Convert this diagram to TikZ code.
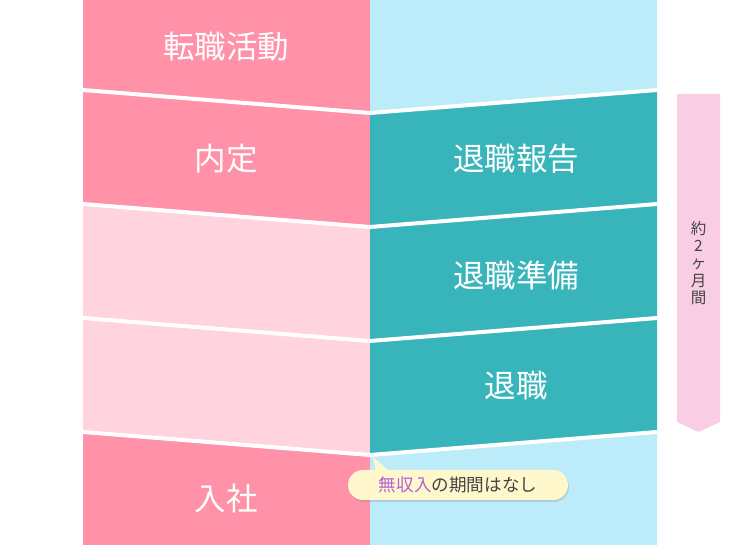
\documentclass[tikz,border=0pt]{standalone}
\usepackage{fontspec}
\usepackage{xcolor}
\usepackage{tikz}
\usetikzlibrary{shadows}
\newfontfamily\jpfont{Noto Sans CJK JP}
\definecolor{pinkdeep}{HTML}{FF91A8}
\definecolor{pinklight}{HTML}{FFD4DE}
\definecolor{bluelight}{HTML}{BCECF9}
\definecolor{tealdeep}{HTML}{37B5BA}
\definecolor{arrowpink}{HTML}{F9CEE4}
\definecolor{bubbleyellow}{HTML}{FFF8CC}
\definecolor{purptxt}{HTML}{B462D2}
\definecolor{graytxt}{HTML}{444444}
\def\colL{83}
\def\colM{370}
\def\colR{657}
\def\dip{23}

\tikzset{
  steptext/.style={font=\jpfont\fontsize{31.5}{31.5}\selectfont, text=white, inner sep=0pt},
  sepline/.style={line width=4pt, white},
  bubble/.style={fill=bubbleyellow, rounded corners=15pt, minimum width=220pt, minimum height=30pt,
    inner sep=0pt, font=\jpfont\fontsize{17.6}{17.6}\selectfont, text=graytxt,
    drop shadow={opacity=0.25, shadow xshift=1pt, shadow yshift=-2pt}},
  periodtext/.style={font=\jpfont\fontsize{15.5}{17.4}\selectfont, text=graytxt, align=center, inner sep=0pt}
}

\begin{document}
\begin{tikzpicture}[x=1pt, y=-1pt]
  \useasboundingbox (0,0) rectangle (740,545);

  % Bands: top-left y, bottom-left y, left colour, right colour
  \foreach \ytop/\ybot/\cl/\cr in {-30/90/pinkdeep/bluelight, 90/204/pinkdeep/tealdeep,
      204/318/pinklight/tealdeep, 318/432/pinklight/tealdeep, 432/580/pinkdeep/bluelight}{
    \fill[\cl] (\colL, \ytop) -- (\colM, \ytop + \dip) -- (\colM, \ybot + \dip) -- (\colL, \ybot) -- cycle;
    \fill[\cr] (\colM, \ytop + \dip) -- (\colR, \ytop) -- (\colR, \ybot) -- (\colM, \ybot + \dip) -- cycle;
  }
  \fill[white] (\colL, 545) rectangle (\colR, 560);

  % Separators
  \foreach \y in {90, 204, 318, 432}{
    \draw[sepline] (\colL, \y) -- (\colM, \y + \dip) -- (\colR, \y);
  }

  % Step labels
  \node[steptext] (hunt) at (226, 47) {転職活動};
  \node[steptext] (offer) at (226, 159) {内定};
  \node[steptext] (notice) at (516, 159) {退職報告};
  \node[steptext] (prep) at (516, 275) {退職準備};
  \node[steptext] (quit) at (516, 386) {退職};
  \node[steptext] (join) at (226, 499) {入社};

  % Period arrow
  \fill[arrowpink] (677, 94) -- (720, 94) -- (720, 422) -- (698.5, 432) -- (677, 422) -- cycle;
  \node[periodtext] (period) at (698.5, 263) {約\\2\\ヶ\\月\\間};

  % Bubble
  \node[bubble] (gap) at (458, 485) {\textcolor{purptxt}{無収入}の期間はなし};
  \coordinate (gaptip) at (373, 457);
  \fill[bubbleyellow] (gaptip) -- (376, 471) -- (389, 471) -- cycle;
\end{tikzpicture}
\end{document}
